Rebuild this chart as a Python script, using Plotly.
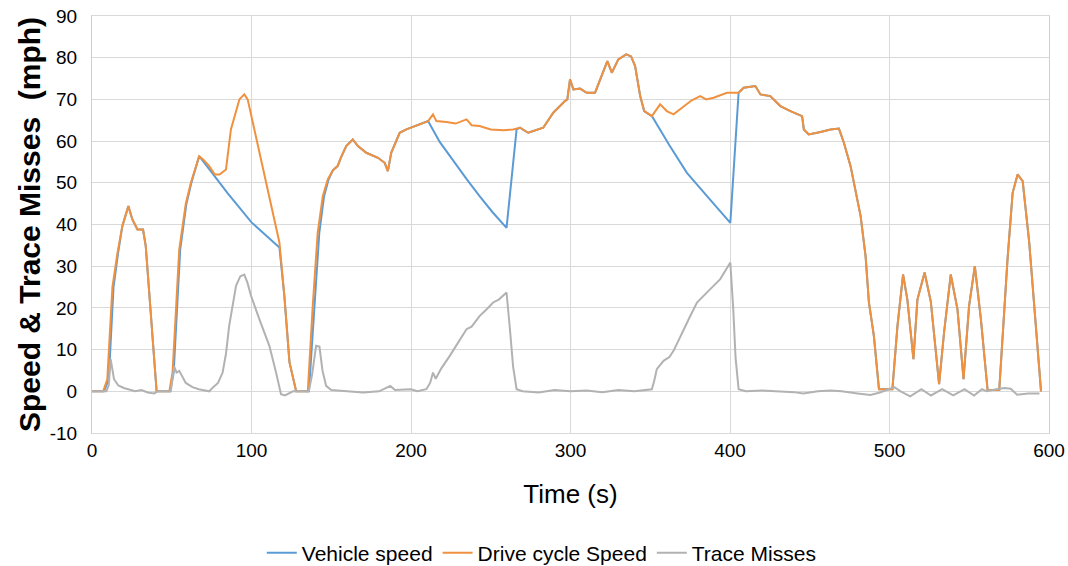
import plotly.graph_objects as go

# ---- Drive cycle speed (mph) ----
drive_t = [0, 7, 9.6, 12.8, 15.9, 19, 22.8, 25.3, 28.5, 32, 33.7, 36.9, 40.5,
           48.5, 50.5, 54.7, 58.8, 62, 67.2, 70, 73.5, 77, 80, 84, 87.1, 92.4, 95.5, 97.6, 101, 105, 109, 113.3, 117.5, 120.6, 123.8, 128,
           135.3, 138.4, 141.5, 144.7, 147.8, 151, 154, 156, 159.4, 163.5, 166.7, 172, 179.3, 183.5, 185.5, 187.6, 192.9, 197.1, 205.4, 210.7, 213.8, 215.9,
           222.2, 228, 234.8, 238, 243, 250, 258, 264, 268.3, 273.5, 282.9, 289.2, 296.5, 298, 299.7, 301.8, 306, 310.2, 315.4, 318.5, 323.1, 325.9, 330,
           334.9, 338, 340.5, 343.7, 346.2, 351, 356.2, 360.4, 364.6, 370.9, 376, 381.4, 385, 389.7, 398.1, 405.4, 408.6, 415.9, 419.1, 425.3, 431.6,
           437.9, 445.2, 446.3, 449.4, 456.8, 463, 468.3, 471.4, 475.6, 478.7, 481.9, 485, 487.1, 490.2, 493.4, 501.8, 505, 508.5, 511.2, 515, 517.5,
           522, 525.9, 531.1, 534.2, 538.4, 542.6, 546.4, 549.9, 553.5, 557.3, 561.5, 568.8, 574, 577.2, 580.3, 583.5, 587.6, 591.8, 595]
drive_v = [0, 0, 2.9, 25, 33, 39.6, 44.4, 41.2, 38.8, 38.8, 34.8, 19, 0,
           0, 4.5, 34, 45, 50, 56.4, 55.5, 54, 52, 52, 53.2, 62.8, 70, 71.2, 70, 64, 57.2, 50, 42.9, 35.7, 22.9, 7, 0,
           0, 20.5, 38, 46.8, 50.8, 53, 54, 56, 58.8, 60.4, 58.8, 57.2, 56, 54.8, 52.8, 57.2, 62, 62.8, 64, 64.8, 66.4, 64.8,
           64.6, 64.2, 65.2, 63.8, 63.6, 62.8, 62.6, 62.8, 63.2, 62, 63.2, 66.8, 69.6, 70, 74.8, 72.4, 72.6, 71.6, 71.6, 74.8, 79.2, 76.4, 79.6,
           80.8, 80.3, 78, 70.8, 67.2, 66, 68.8, 67.2, 66.4, 68.4, 69.8, 70.8, 70, 70.4, 71.6, 71.6, 72.8, 73.2, 71.2, 70.8, 68.4,
           67.2, 66, 62.8, 61.6, 62.2, 62.8, 63, 59.6, 54, 48.4, 42, 32.4, 21.3, 13.3, 0.5, 0.5, 15.7, 28, 22, 7.7, 22,
           28.5, 21.5, 1.7, 14.1, 28, 19.7, 2.9, 20.5, 30, 17.3, 0.3, 0.3, 31.7, 47.6, 52, 50.4, 35.7, 15.7, 0]

# ---- Vehicle speed (mph) ----
vehicle_t = [0, 7.5, 10.5, 13.5, 16.3, 19, 22.8, 25.3, 28.5, 32, 33.7, 36.9, 40.5,
             49, 51.2, 55.3, 59.2, 62.3, 67.2, 70, 85, 100, 117.5, 120.6, 123.8, 128,
             136, 139.5, 142.5, 145.5, 148.3, 151, 154, 156, 159.4, 163.5, 166.7, 172, 179.3, 183.5, 185.5, 187.6, 192.9, 197.1, 205.4, 210.7,
             218, 226.4, 235, 243, 251, 259.9, 266.2, 268.3, 273.5, 282.9, 289.2, 296.5, 298, 299.7, 301.8, 306, 310.2, 315.4, 318.5, 323.1, 325.9, 330,
             334.9, 338, 340.5, 343.7, 346.2, 351, 362, 373, 385.6, 393, 400.2, 405.4, 408.6, 415.9, 419.1, 425.3, 431.6,
             437.9, 445.2, 446.3, 449.4, 456.8, 463, 468.3, 471.4, 475.6, 478.7, 481.9, 485, 487.1, 490.2, 493.4, 501.8, 505, 508.5, 511.2, 515, 517.5,
             522, 525.9, 531.1, 534.2, 538.4, 542.6, 546.4, 549.9, 553.5, 557.3, 561.5, 568.8, 574, 577.2, 580.3, 583.5, 587.6, 591.8, 595]
vehicle_v = [0, 0, 2.9, 25, 33, 39.6, 44.4, 41.2, 38.8, 38.8, 34.8, 19, 0,
             0, 4.5, 34, 45, 50, 56.4, 55, 47.5, 40.5, 34.5, 22.9, 7, 0,
             0, 20.5, 38, 46.8, 50.8, 53, 54, 56, 58.8, 60.4, 58.8, 57.2, 56, 54.8, 52.8, 57.2, 62, 62.8, 64, 64.8,
             59.8, 55.2, 50.8, 46.8, 43, 39.2, 62.8, 63.2, 62, 63.2, 66.8, 69.6, 70, 74.8, 72.4, 72.6, 71.6, 71.6, 74.8, 79.2, 76.4, 79.6,
             80.8, 80.3, 78, 70.8, 67.2, 66, 59, 52.4, 46.8, 43.5, 40.4, 71.6, 72.8, 73.2, 71.2, 70.8, 68.4,
             67.2, 66, 62.8, 61.6, 62.2, 62.8, 63, 59.6, 54, 48.4, 42, 32.4, 21.3, 13.3, 0.5, 0.5, 15.7, 28, 22, 7.7, 22,
             28.5, 21.5, 1.7, 14.1, 28, 19.7, 2.9, 20.5, 30, 17.3, 0.3, 0.3, 31.7, 47.6, 52, 50.4, 35.7, 15.7, 0]

# ---- Trace misses (mph) ----
miss_t = [0, 9, 10.5, 11.7, 13.8, 16.5, 20, 22.8, 27, 31, 35, 39, 41, 49.4, 51.5, 53, 54.7, 58.8, 63, 67, 71, 73.5, 76, 79, 81.9, 84, 86,
          90.3, 93, 95.5, 97.5, 99.7, 104.9, 111.2, 115.4, 118.5, 121, 124, 126, 135.9, 138, 140.5, 142.6, 144.5, 146.8, 150, 160, 170, 180,
          187, 190, 200, 204, 209.6, 212, 213.8, 215.5, 219, 224.3, 229, 234.8, 238, 243.1, 247, 251.5, 255, 259.9, 262, 264, 266.2, 270, 280,
          290, 300, 310, 320, 330, 340, 350, 351, 352.5, 354.1, 358.3, 362, 364.6, 370.9, 375, 379.3, 384, 387.6, 393.9, 400.2, 402, 403.5,
          405.4, 410, 420, 430, 440, 446, 455, 463, 470, 480, 488, 494, 500, 503, 507, 513, 520, 526, 533, 540, 547, 553, 558, 561, 567, 572,
          576, 580, 587, 594]
miss_v = [0, 0, 1.5, 7.7, 2.9, 1.4, 0.8, 0.5, 0, 0.3, -0.3, -0.5, 0, 0, 6, 4.5, 4.9, 2, 1, 0.5, 0.3, 0, 1, 2, 4.5, 9, 15.7,
          25.3, 27.6, 28, 26, 22.9, 17.3, 10.9, 4.5, -0.7, -1, -0.5, 0, 0, 4, 10.9, 10.7, 5, 1.3, 0.3, 0, -0.3, 0,
          1.3, 0.3, 0.5, 0, 0.5, 2, 4.5, 3, 5.5, 8.5, 11.5, 14.9, 15.5, 18.1, 19.5, 21.3, 22, 23.7, 15, 6, 0.5, 0, -0.3,
          0.3, 0, 0.2, -0.2, 0.3, 0, 0.3, 0.5, 2.5, 5.3, 7.3, 8.2, 9.7, 14.9, 18, 21.3, 23, 24.5, 26.9, 30.9, 20, 8,
          0.5, 0, 0.2, 0, -0.2, -0.5, 0, 0.2, 0, -0.5, -0.9, -0.3, 0.5, 1, 0, -1.2, 0.5, -1, 0.5, -1, 0.5, -1, 0.5, 0, 0.5, 0.8,
          0.6, -0.8, -0.5, -0.5]

x_ticks = [0, 100, 200, 300, 400, 500, 600]
y_ticks = [-10, 0, 10, 20, 30, 40, 50, 60, 70, 80, 90]
y_tick_labels = ["-10", "0", "10", "20", "30", "40", "50", "60", "70", "80", "90"]

FONT = "Liberation Sans, Arial, Helvetica, sans-serif"
GRID = "#d9d9d9"

fig = go.Figure()
fig.add_trace(go.Scatter(x=vehicle_t, y=vehicle_v, mode="lines", name="Vehicle speed",
                         line=dict(color="#5B9BD5", width=2)))
fig.add_trace(go.Scatter(x=drive_t, y=drive_v, mode="lines", name="Drive cycle Speed",
                         line=dict(color="#F0913F", width=2)))
fig.add_trace(go.Scatter(x=miss_t, y=miss_v, mode="lines", name="Trace Misses",
                         line=dict(color="#B2B2B2", width=2)))

fig.update_layout(
    width=1068, height=566,
    margin=dict(l=92, r=19, t=16, b=133),
    paper_bgcolor="white", plot_bgcolor="white",
    font=dict(family=FONT, color="#000000", size=19),
    showlegend=True,
    legend=dict(orientation="h", x=0.47, xanchor="center", yref="container", y=0.023, yanchor="middle",
                font=dict(size=21, family=FONT), itemwidth=30),
    xaxis=dict(range=[0, 600], tickvals=x_ticks, showgrid=True, gridcolor=GRID, gridwidth=1,
               zeroline=False, showline=True, linecolor=GRID, mirror=True, automargin=False,
               ticks="", tickfont=dict(size=19),
               title=dict(text="Time (s)", font=dict(size=26), standoff=25)),
    yaxis=dict(range=[-10, 90], tickvals=y_ticks, ticktext=y_tick_labels, showgrid=True, gridcolor=GRID, gridwidth=1,
               zeroline=False, showline=True, linecolor="#cfcfcf", mirror=True, automargin=False,
               ticks="", tickfont=dict(size=19), ticklabelstandoff=10,
               title=dict(text="<b>Speed & Trace Misses  (mph)</b>", font=dict(size=30), standoff=0)),
)

fig.write_html("out.html")
